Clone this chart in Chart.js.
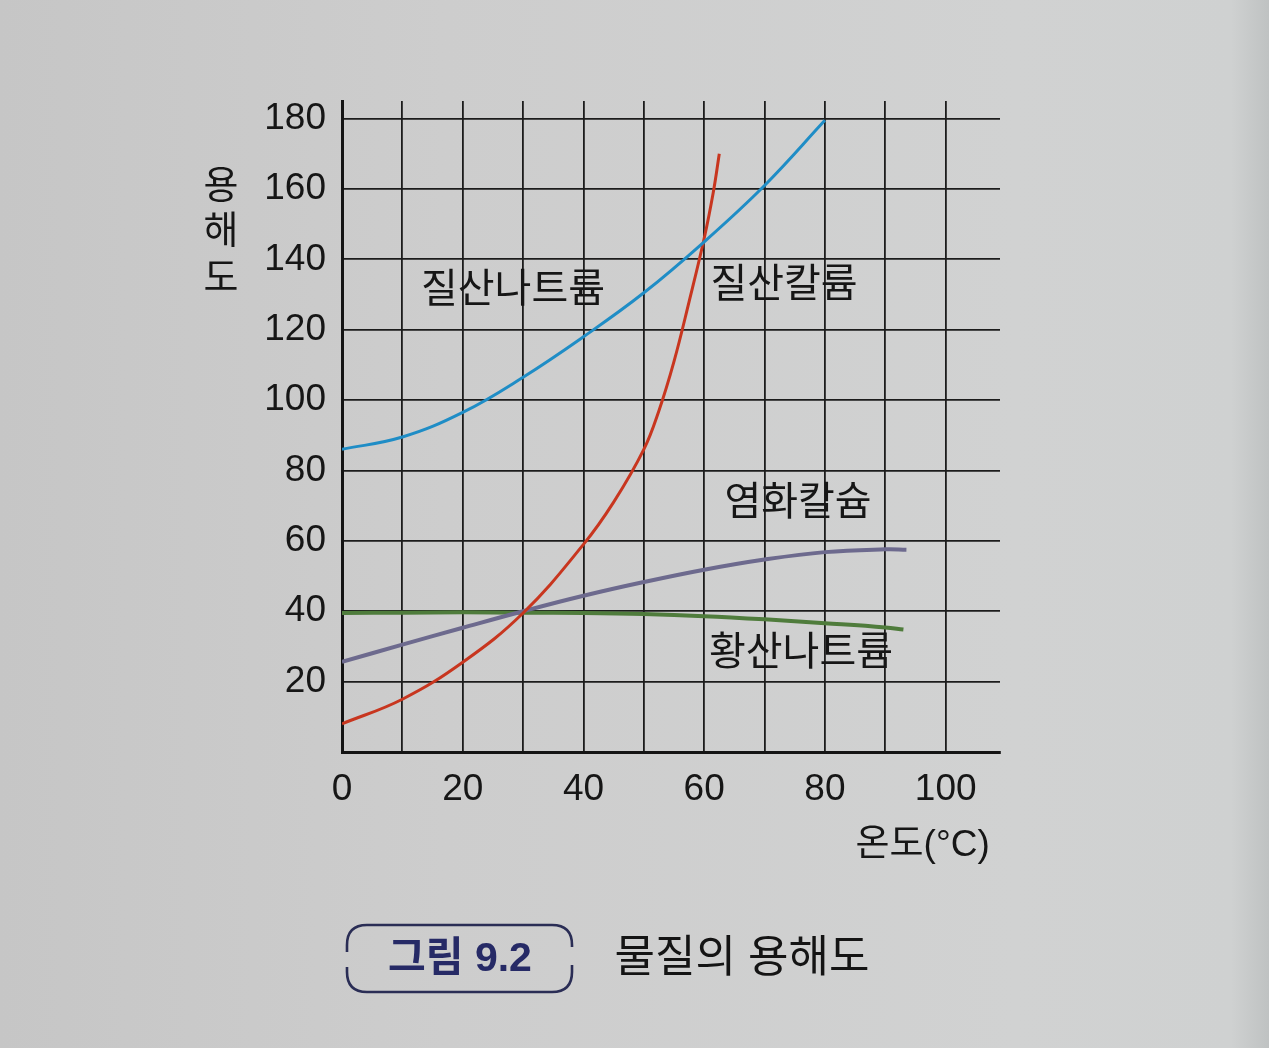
<!DOCTYPE html>
<html>
<head>
<meta charset="utf-8">
<script src="https://cdn.jsdelivr.net/npm/chart.js@4.4.1/dist/chart.umd.min.js"></script>
<style>
html,body{margin:0;padding:0;}
body{width:1269px;height:1048px;overflow:hidden;
  background:linear-gradient(90deg,#c6c6c6 0%,#cdcdcd 35%,#d1d2d2 80%,#cfd1d1 97%,#bfc2c2 100%);}
canvas{display:block;}
</style>
</head>
<body>
<canvas id="c" width="1269" height="1048"></canvas>
<script>
// ---- data ----
const seriesNames = ['질산나트륨', '질산칼륨', '염화칼슘', '황산나트륨'];
const sodiumNitrateTemp = [0, 10, 20, 30, 40, 50, 60, 70, 80];
const sodiumNitrate     = [86, 89.5, 96.5, 106.5, 118, 130.5, 145, 161, 179.5];
const potassiumNitrateTemp = [0, 10, 20, 30, 40, 45, 50, 52.5, 55, 57.5, 60, 61.5, 62.5];
const potassiumNitrate     = [8, 15, 25.5, 39.5, 59, 71, 86, 97, 111, 128, 146, 159, 170];
const calciumChlorideTemp = [0, 10, 20, 30, 40, 50, 60, 70, 80, 90, 93.5];
const calciumChloride     = [25.6, 30.5, 35.3, 40, 44.4, 48.3, 51.8, 54.7, 56.8, 57.6, 57.5];
const sodiumSulfateTemp = [0, 10, 20, 30, 40, 50, 60, 70, 80, 90, 93];
const sodiumSulfate     = [39.5, 39.6, 39.7, 39.6, 39.5, 39.2, 38.6, 37.7, 36.6, 35.4, 34.8];
const xTickLabels = [0, 20, 40, 60, 80, 100];
const yTickLabels = [20, 40, 60, 80, 100, 120, 140, 160, 180];
const xTitle = '온도(°C) ';
const yTitle = ['용', '해', '도'];
const captionTag = '그림 9.2';
const captionText = '물질의 용해도';

const pts = (xs, ys) => xs.map((x, i) => ({x: x, y: ys[i]}));

const NUM = '"Liberation Sans", Arial, "Noto Sans CJK KR", sans-serif';
const KR = '"Liberation Sans", "Noto Sans CJK KR", sans-serif';

const textPlugin = {
  id: 'texts',
  afterDraw(chart) {
    const ctx = chart.ctx;
    ctx.save();
    ctx.fillStyle = '#161616';
    ctx.textAlign = 'center';
    ctx.textBaseline = 'middle';
    // y-axis title, stacked characters
    ctx.font = '38px ' + KR;
    const yc = [188, 233, 280];
    yTitle.forEach((ch, i) => ctx.fillText(ch, 221, yc[i]));
    // series labels
    ctx.font = '40px ' + KR;
    const lab = [[513, 291], [784, 286], [798, 504], [801, 654]];
    seriesNames.forEach((n, i) => ctx.fillText(n, lab[i][0], lab[i][1]));
    // caption box
    ctx.strokeStyle = '#2a2d55';
    ctx.lineWidth = 2.6;
    const L = 347, R = 572, T = 925, B = 992, r = 20;
    ctx.beginPath();
    ctx.moveTo(L, 952);
    ctx.lineTo(L, T + r);
    ctx.quadraticCurveTo(L, T, L + r, T);
    ctx.lineTo(R - r, T);
    ctx.quadraticCurveTo(R, T, R, T + r);
    ctx.lineTo(R, 947);
    ctx.moveTo(L, 967);
    ctx.lineTo(L, B - r);
    ctx.quadraticCurveTo(L, B, L + r, B);
    ctx.lineTo(R - r, B);
    ctx.quadraticCurveTo(R, B, R, B - r);
    ctx.lineTo(R, 965);
    ctx.stroke();
    ctx.fillStyle = '#262a66';
    ctx.font = 'bold 41px ' + KR;
    ctx.fillText(captionTag, 460, 960);
    ctx.fillStyle = '#141414';
    ctx.font = '44px ' + KR;
    ctx.fillText(captionText, 742, 960);
    ctx.restore();
  }
};

const lineDs = (label, data, color, width) => ({
  label: label, data: data, borderColor: color, borderWidth: width,
  pointRadius: 0, fill: false, tension: 0.4
});

new Chart(document.getElementById('c'), {
  type: 'line',
  data: {
    datasets: [
      lineDs(seriesNames[0], pts(sodiumNitrateTemp, sodiumNitrate), '#1f8dc6', 3),
      lineDs(seriesNames[1], pts(potassiumNitrateTemp, potassiumNitrate), '#c8361f', 3),
      lineDs(seriesNames[2], pts(calciumChlorideTemp, calciumChloride), '#6d6a8e', 4),
      lineDs(seriesNames[3], pts(sodiumSulfateTemp, sodiumSulfate), '#4f7c3c', 4)
    ]
  },
  options: {
    responsive: false,
    devicePixelRatio: 1,
    animation: false,
    layout: {padding: {left: 0, top: 101, right: 269, bottom: 176}},
    plugins: {legend: {display: false}, tooltip: {enabled: false}},
    scales: {
      x: {
        type: 'linear', min: 0, max: 109,
        afterFit(s) { s.height = 120; },
        border: {display: true, color: '#141414', width: 3},
        grid: {color: '#1c1c1c', lineWidth: 1.8, drawTicks: false},
        ticks: {
          stepSize: 10, includeBounds: false, autoSkip: false, maxRotation: 0,
          padding: 16, color: '#161616', font: {size: 37, family: NUM},
          callback: v => xTickLabels.includes(v) ? String(v) : ''
        },
        title: {display: true, text: xTitle, align: 'end', color: '#161616',
                font: {size: 37, family: KR}, padding: {top: 0, bottom: 4}}
      },
      y: {
        type: 'linear', min: 0, max: 185,
        afterFit(s) { s.width = 342; },
        border: {display: true, color: '#141414', width: 3},
        grid: {color: '#1c1c1c', lineWidth: 1.8, drawTicks: false},
        ticks: {
          stepSize: 20, includeBounds: false, autoSkip: false,
          padding: 16, color: '#161616', font: {size: 37, family: NUM},
          callback: v => yTickLabels.includes(v) ? String(v) : ''
        }
      }
    }
  },
  plugins: [textPlugin]
});
</script>
</body>
</html>
